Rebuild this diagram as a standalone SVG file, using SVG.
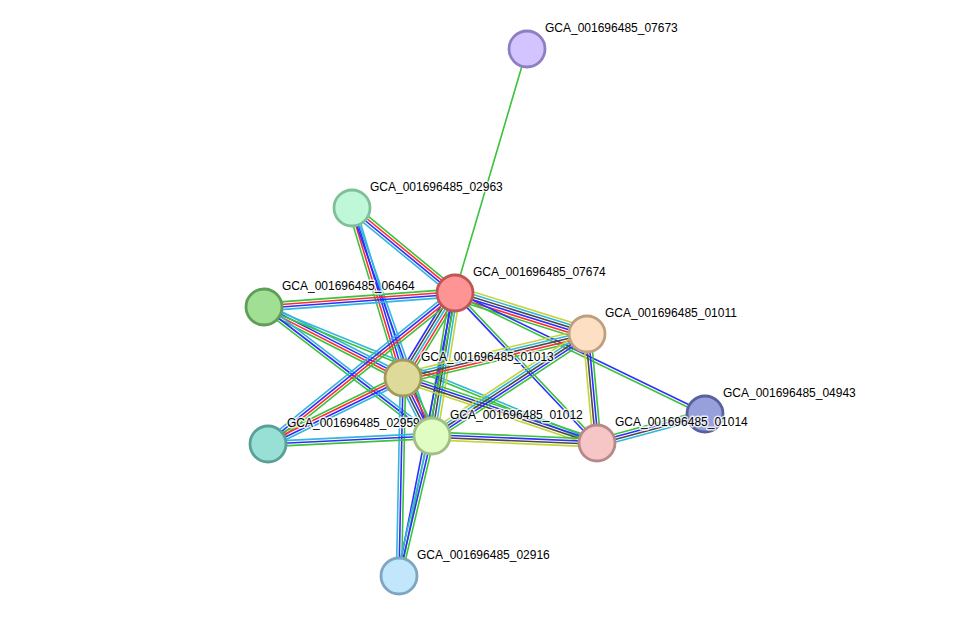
<svg xmlns="http://www.w3.org/2000/svg" width="976" height="622" viewBox="0 0 976 622">
<style>
line{stroke-width:1.6;fill:none}
.g{stroke:#3cc23c}.r{stroke:#ff2e2e}.b{stroke:#2e2eff}.c{stroke:#33b6dc}.k{stroke:#4a4a4a}.y{stroke:#c4d43a}
.node circle{stroke-width:2.8}
text{font-family:"Liberation Sans",Arial,sans-serif;font-size:12px;fill:#000;stroke:#fff;stroke-width:3;stroke-opacity:0.8;paint-order:stroke;stroke-linejoin:round}
</style>
<rect width="976" height="622" fill="#fff"/>
<g id="edges">
<g transform="translate(455,293) rotate(-73.56)"><line x2="254.4" class="g"/></g>
<g transform="translate(352,208) rotate(39.53)"><line x2="133.5" y1="-3.9" y2="-3.9" class="g"/><line x2="133.5" y1="-1.3" y2="-1.3" class="r"/><line x2="133.5" y1="1.3" y2="1.3" class="b"/><line x2="133.5" y1="3.9" y2="3.9" class="c"/></g>
<g transform="translate(352,208) rotate(73.30)"><line x2="177.5" y1="3.9" y2="3.9" class="g"/><line x2="177.5" y1="1.3" y2="1.3" class="r"/><line x2="177.5" y1="-1.3" y2="-1.3" class="b"/><line x2="177.5" y1="-3.9" y2="-3.9" class="c"/></g>
<g transform="translate(352,208) rotate(70.67)"><line x2="241.6" y1="1.3" y2="1.3" class="b"/><line x2="241.6" y1="-1.3" y2="-1.3" class="c"/></g>
<g transform="translate(264,307) rotate(-4.19)"><line x2="191.5" y1="-3.9" y2="-3.9" class="g"/><line x2="191.5" y1="-1.3" y2="-1.3" class="r"/><line x2="191.5" y1="1.3" y2="1.3" class="b"/><line x2="191.5" y1="3.9" y2="3.9" class="c"/></g>
<g transform="translate(264,307) rotate(27.06)"><line x2="156.1" y1="3.9" y2="3.9" class="g"/><line x2="156.1" y1="1.3" y2="1.3" class="r"/><line x2="156.1" y1="-1.3" y2="-1.3" class="b"/><line x2="156.1" y1="-3.9" y2="-3.9" class="c"/></g>
<g transform="translate(264,307) rotate(37.52)"><line x2="211.8" y1="2.6" y2="2.6" class="g"/><line x2="211.8" y1="0" y2="0" class="b"/><line x2="211.8" y1="-2.6" y2="-2.6" class="c"/></g>
<g transform="translate(264,307) rotate(22.22)"><line x2="359.7" y1="1.3" y2="1.3" class="g"/><line x2="359.7" y1="-1.3" y2="-1.3" class="c"/></g>
<g transform="translate(455,293) rotate(17.26)"><line x2="138.2" y1="-6.5" y2="-6.5" class="y"/><line x2="138.2" y1="-3.9" y2="-3.9" class="c"/><line x2="138.2" y1="-1.3" y2="-1.3" class="k"/><line x2="138.2" y1="1.3" y2="1.3" class="b"/><line x2="138.2" y1="3.9" y2="3.9" class="r"/><line x2="138.2" y1="6.5" y2="6.5" class="g"/></g>
<g transform="translate(455,293) rotate(25.83)"><line x2="277.7" y1="-1.3" y2="-1.3" class="b"/><line x2="277.7" y1="1.3" y2="1.3" class="g"/></g>
<g transform="translate(455,293) rotate(121.46)"><line x2="99.6" y1="-5.2" y2="-5.2" class="g"/><line x2="99.6" y1="-2.6" y2="-2.6" class="r"/><line x2="99.6" y1="0" y2="0" class="c"/><line x2="99.6" y1="2.6" y2="2.6" class="k"/><line x2="99.6" y1="5.2" y2="5.2" class="b"/></g>
<g transform="translate(455,293) rotate(99.14)"><line x2="144.8" y1="5.2" y2="5.2" class="g"/><line x2="144.8" y1="2.6" y2="2.6" class="b"/><line x2="144.8" y1="0" y2="0" class="k"/><line x2="144.8" y1="-2.6" y2="-2.6" class="c"/><line x2="144.8" y1="-5.2" y2="-5.2" class="y"/></g>
<g transform="translate(455,293) rotate(141.08)"><line x2="240.4" y1="-3.9" y2="-3.9" class="g"/><line x2="240.4" y1="-1.3" y2="-1.3" class="r"/><line x2="240.4" y1="1.3" y2="1.3" class="b"/><line x2="240.4" y1="3.9" y2="3.9" class="c"/></g>
<g transform="translate(455,293) rotate(46.57)"><line x2="206.6" y1="-1.3" y2="-1.3" class="g"/><line x2="206.6" y1="1.3" y2="1.3" class="b"/></g>
<g transform="translate(455,293) rotate(101.19)"><line x2="288.5" y1="-1.3" y2="-1.3" class="g"/><line x2="288.5" y1="1.3" y2="1.3" class="b"/></g>
<g transform="translate(403,378) rotate(91.16)"><line x2="198" y1="-2.6" y2="-2.6" class="g"/><line x2="198" y1="0" y2="0" class="b"/><line x2="198" y1="2.6" y2="2.6" class="c"/></g>
<g transform="translate(403,378) rotate(-13.45)"><line x2="189.2" y1="-5.2" y2="-5.2" class="y"/><line x2="189.2" y1="-2.6" y2="-2.6" class="c"/><line x2="189.2" y1="0" y2="0" class="k"/><line x2="189.2" y1="2.6" y2="2.6" class="r"/><line x2="189.2" y1="5.2" y2="5.2" class="g"/></g>
<g transform="translate(403,378) rotate(63.43)"><line x2="64.8" y1="-5.2" y2="-5.2" class="g"/><line x2="64.8" y1="-2.6" y2="-2.6" class="r"/><line x2="64.8" y1="0" y2="0" class="b"/><line x2="64.8" y1="2.6" y2="2.6" class="k"/><line x2="64.8" y1="5.2" y2="5.2" class="c"/></g>
<g transform="translate(403,378) rotate(18.52)"><line x2="204.6" y1="-3.9" y2="-3.9" class="g"/><line x2="204.6" y1="-1.3" y2="-1.3" class="b"/><line x2="204.6" y1="1.3" y2="1.3" class="k"/><line x2="204.6" y1="3.9" y2="3.9" class="y"/></g>
<g transform="translate(403,378) rotate(153.95)"><line x2="150.3" y1="3.9" y2="3.9" class="g"/><line x2="150.3" y1="1.3" y2="1.3" class="r"/><line x2="150.3" y1="-1.3" y2="-1.3" class="b"/><line x2="150.3" y1="-3.9" y2="-3.9" class="c"/></g>
<g transform="translate(432,436) rotate(-33.35)"><line x2="185.6" y1="-5.2" y2="-5.2" class="y"/><line x2="185.6" y1="-2.6" y2="-2.6" class="c"/><line x2="185.6" y1="0" y2="0" class="k"/><line x2="185.6" y1="2.6" y2="2.6" class="b"/><line x2="185.6" y1="5.2" y2="5.2" class="g"/></g>
<g transform="translate(432,436) rotate(2.43)"><line x2="165.1" y1="-3.9" y2="-3.9" class="g"/><line x2="165.1" y1="-1.3" y2="-1.3" class="b"/><line x2="165.1" y1="1.3" y2="1.3" class="k"/><line x2="165.1" y1="3.9" y2="3.9" class="y"/></g>
<g transform="translate(432,436) rotate(177.21)"><line x2="164.2" y1="2.6" y2="2.6" class="c"/><line x2="164.2" y1="0" y2="0" class="b"/><line x2="164.2" y1="-2.6" y2="-2.6" class="g"/></g>
<g transform="translate(432,436) rotate(103.26)"><line x2="143.8" y1="-2.6" y2="-2.6" class="g"/><line x2="143.8" y1="0" y2="0" class="b"/><line x2="143.8" y1="2.6" y2="2.6" class="c"/></g>
<g transform="translate(587,334) rotate(84.76)"><line x2="109.5" y1="3.9" y2="3.9" class="y"/><line x2="109.5" y1="1.3" y2="1.3" class="k"/><line x2="109.5" y1="-1.3" y2="-1.3" class="b"/><line x2="109.5" y1="-3.9" y2="-3.9" class="g"/></g>
<g transform="translate(597,443) rotate(-15.03)"><line x2="111.8" y1="-3.9" y2="-3.9" class="g"/><line x2="111.8" y1="-1.3" y2="-1.3" class="b"/><line x2="111.8" y1="1.3" y2="1.3" class="k"/><line x2="111.8" y1="3.9" y2="3.9" class="c"/></g>
</g>
<g id="n07673" class="node"><circle cx="527" cy="49" r="18" fill="#d3c3fe" stroke="#8e7fc2"/><text x="545" y="32">GCA_001696485_07673</text></g>
<g id="n02963" class="node"><circle cx="352" cy="208" r="18" fill="#bff8d8" stroke="#7fbf9c"/><text x="370" y="191">GCA_001696485_02963</text></g>
<g id="n07674" class="node"><circle cx="455" cy="293" r="18" fill="#fe9494" stroke="#bf5656"/><text x="473" y="276">GCA_001696485_07674</text></g>
<g id="n06464" class="node"><circle cx="264" cy="307" r="18" fill="#a0df94" stroke="#5e9e56"/><text x="282" y="290">GCA_001696485_06464</text></g>
<g id="n01011" class="node"><circle cx="587" cy="334" r="18" fill="#fde0c4" stroke="#bf9f80"/><text x="605" y="317">GCA_001696485_01011</text></g>
<g id="n01013" class="node"><circle cx="403" cy="378" r="18" fill="#dedb9a" stroke="#a09b5a"/><text x="421" y="361">GCA_001696485_01013</text></g>
<g id="n04943" class="node"><circle cx="705" cy="414" r="18" fill="#98a0dc" stroke="#58609e"/><text x="723" y="397">GCA_001696485_04943</text></g>
<g id="n02959" class="node"><circle cx="268" cy="444" r="18" fill="#98e0d6" stroke="#58a098"/><text x="287" y="427">GCA_001696485_02959</text></g>
<g id="n01012" class="node"><circle cx="432" cy="436" r="18" fill="#e0fec4" stroke="#a0bf82"/><text x="450" y="419">GCA_001696485_01012</text></g>
<g id="n01014" class="node"><circle cx="597" cy="443" r="18" fill="#f6c6c6" stroke="#b98888"/><text x="615" y="426">GCA_001696485_01014</text></g>
<g id="n02916" class="node"><circle cx="399" cy="576" r="18" fill="#c2e6fc" stroke="#7fa6c0"/><text x="417" y="559">GCA_001696485_02916</text></g>
</svg>
